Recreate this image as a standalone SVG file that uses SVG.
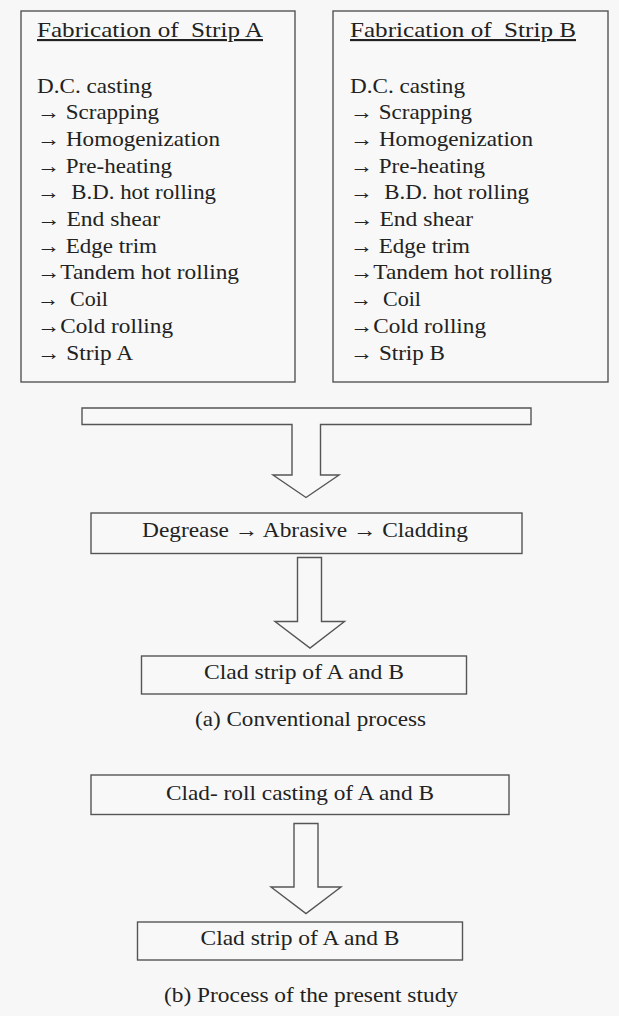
<svg xmlns="http://www.w3.org/2000/svg" width="619" height="1016" viewBox="0 0 619 1016">
<style>
.bg{fill:#f7f7f7}
.box{fill:#f8f8f8;stroke:#555;stroke-width:1.4}
.arr{fill:#f8f8f8;stroke:#555;stroke-width:1.4;stroke-linejoin:miter}
text{font-family:"Liberation Serif","DejaVu Serif","Times New Roman",Times,serif;font-size:21.5px;fill:#222;white-space:pre}
.c{text-anchor:middle}
.u{text-decoration:underline}
</style>
<rect class="bg" x="0" y="0" width="619" height="1016"/>
<g id="stripA">
<rect class="box" x="21" y="11" width="274" height="371"/>
<text x="37" y="37" class="u" xml:space="preserve" textLength="226" lengthAdjust="spacingAndGlyphs">Fabrication of  Strip A</text>
<text x="37" y="92.5" textLength="115" lengthAdjust="spacingAndGlyphs">D.C. casting</text>
<text x="37" y="119.2" xml:space="preserve" textLength="122" lengthAdjust="spacingAndGlyphs">→ Scrapping</text>
<text x="37" y="145.9" xml:space="preserve" textLength="183" lengthAdjust="spacingAndGlyphs">→ Homogenization</text>
<text x="37" y="172.6" xml:space="preserve" textLength="135" lengthAdjust="spacingAndGlyphs">→ Pre-heating</text>
<text x="37" y="199.3" xml:space="preserve" textLength="179" lengthAdjust="spacingAndGlyphs">→  B.D. hot rolling</text>
<text x="37" y="226" xml:space="preserve" textLength="123" lengthAdjust="spacingAndGlyphs">→ End shear</text>
<text x="37" y="252.7" xml:space="preserve" textLength="120" lengthAdjust="spacingAndGlyphs">→ Edge trim</text>
<text x="37" y="279.4" xml:space="preserve" textLength="202" lengthAdjust="spacingAndGlyphs">→Tandem hot rolling</text>
<text x="37" y="306.1" xml:space="preserve" textLength="71" lengthAdjust="spacingAndGlyphs">→  Coil</text>
<text x="37" y="332.8" xml:space="preserve" textLength="136" lengthAdjust="spacingAndGlyphs">→Cold rolling</text>
<text x="37" y="359.5" xml:space="preserve" textLength="96" lengthAdjust="spacingAndGlyphs">→ Strip A</text>
</g>
<g id="stripB">
<rect class="box" x="333" y="11" width="275" height="371"/>
<text x="350" y="37" class="u" xml:space="preserve" textLength="226" lengthAdjust="spacingAndGlyphs">Fabrication of  Strip B</text>
<text x="350" y="92.5" textLength="115" lengthAdjust="spacingAndGlyphs">D.C. casting</text>
<text x="350" y="119.2" xml:space="preserve" textLength="122" lengthAdjust="spacingAndGlyphs">→ Scrapping</text>
<text x="350" y="145.9" xml:space="preserve" textLength="183" lengthAdjust="spacingAndGlyphs">→ Homogenization</text>
<text x="350" y="172.6" xml:space="preserve" textLength="135" lengthAdjust="spacingAndGlyphs">→ Pre-heating</text>
<text x="350" y="199.3" xml:space="preserve" textLength="179" lengthAdjust="spacingAndGlyphs">→  B.D. hot rolling</text>
<text x="350" y="226" xml:space="preserve" textLength="123" lengthAdjust="spacingAndGlyphs">→ End shear</text>
<text x="350" y="252.7" xml:space="preserve" textLength="120" lengthAdjust="spacingAndGlyphs">→ Edge trim</text>
<text x="350" y="279.4" xml:space="preserve" textLength="202" lengthAdjust="spacingAndGlyphs">→Tandem hot rolling</text>
<text x="350" y="306.1" xml:space="preserve" textLength="71" lengthAdjust="spacingAndGlyphs">→  Coil</text>
<text x="350" y="332.8" xml:space="preserve" textLength="136" lengthAdjust="spacingAndGlyphs">→Cold rolling</text>
<text x="350" y="359.5" xml:space="preserve" textLength="95" lengthAdjust="spacingAndGlyphs">→ Strip B</text>
</g>
<g id="connectors">
<polygon class="arr" points="82,408 531,408 531,424.5 320.5,424.5 320.5,475 339,475 306,497.5 273,475 292,475 292,424.5 82,424.5"/>
<polygon class="arr" points="297.5,557.5 321.5,557.5 321.5,621.5 344.5,621.5 310,648 275,621.5 297.5,621.5"/>
<polygon class="arr" points="294,823.5 318,823.5 318,887 341,887 306,913.5 271,887 294,887"/>
</g>
<g id="degrease">
<rect class="box" x="91" y="513" width="431" height="40.5"/>
<text class="c" x="305" y="537" xml:space="preserve" textLength="326" lengthAdjust="spacingAndGlyphs">Degrease → Abrasive → Cladding</text>
</g>
<g id="clad1">
<rect class="box" x="141.5" y="656" width="325" height="38"/>
<text class="c" x="304" y="678.5" textLength="200" lengthAdjust="spacingAndGlyphs">Clad strip of A and B</text>
</g>
<text id="captionA" class="c" x="310.5" y="726" textLength="231" lengthAdjust="spacingAndGlyphs">(a) Conventional process</text>
<g id="cladroll">
<rect class="box" x="91" y="775" width="418" height="39.5"/>
<text class="c" x="300" y="799.5" textLength="268" lengthAdjust="spacingAndGlyphs">Clad- roll casting of A and B</text>
</g>
<g id="clad2">
<rect class="box" x="137.5" y="922" width="325" height="38"/>
<text class="c" x="300" y="945" textLength="199" lengthAdjust="spacingAndGlyphs">Clad strip of A and B</text>
</g>
<text id="captionB" class="c" x="311" y="1002" textLength="294" lengthAdjust="spacingAndGlyphs">(b) Process of the present study</text>
</svg>
